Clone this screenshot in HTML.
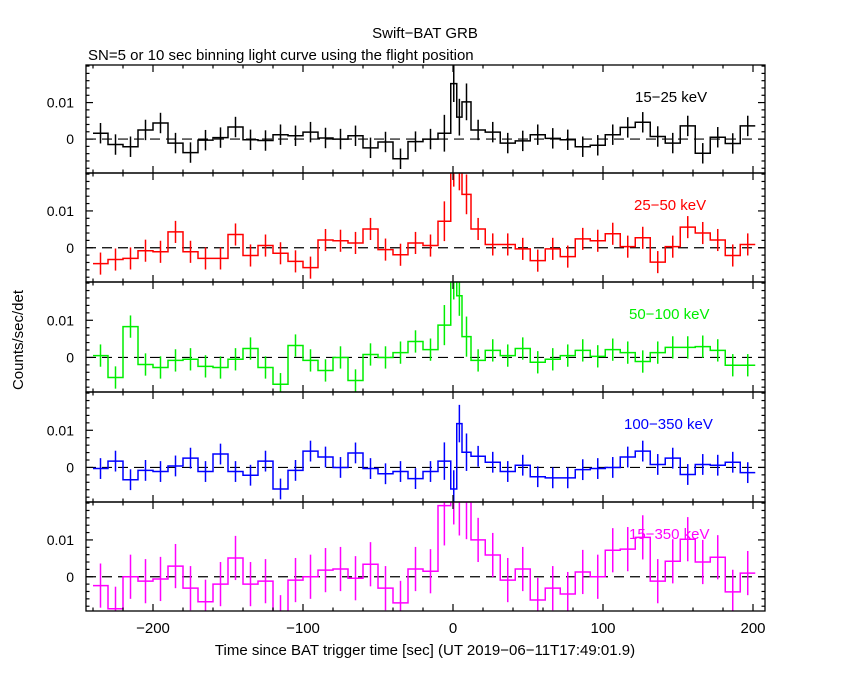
<!DOCTYPE html>
<html><head><meta charset="utf-8"><style>
html,body{margin:0;padding:0;background:#fff;}
svg{display:block;font-family:"Liberation Sans",sans-serif;}
</style></head><body>
<svg id="chart" width="850" height="680" viewBox="0 0 850 680">
<text x="425" y="38" font-size="15" text-anchor="middle">Swift−BAT GRB</text>
<text x="88" y="60" font-size="15">SN=5 or 10 sec binning light curve using the flight position</text>
<text transform="translate(23,340) rotate(-90)" font-size="15" text-anchor="middle">Counts/sec/det</text>
<text x="425" y="655" font-size="15" text-anchor="middle">Time since BAT trigger time [sec] (UT 2019−06−11T17:49:01.9)</text>
</svg>
<script>
const binEdges=[-240,-230,-220,-210,-200,-190,-180,-170,-160,-150,-140,-130,-120,-110,-100,-90,-80,-70,-60,-50,-40,-30,-20,-10,-1.5,2.5,6,12,21.5,31.5,41.5,51.5,61.5,71.5,81.5,91.5,101.5,111.5,121.5,131.5,141.5,151.5,161.5,171.5,181.5,191.5,201.5];
const bandLabels=["15−25 keV","25−50 keV","50−100 keV","100−350 keV","15−350 keV"];
const bandColors=["#000000","#ff0000","#00ee00","#0000ff","#ff00ff"];
const rate1525=[0.0016,-0.0015,-0.0021,0.0025,0.0044,-0.0011,-0.0037,-0.0003,0.0004,0.0033,-0.0002,-0.0004,0.0012,0.0009,0.0019,0.0003,0,0.0009,-0.0024,-0.0008,-0.0054,-0.0007,0,0.0016,0.0152,0.006,0.0102,0.0025,0.0019,-0.0011,-0.0005,0.0012,0.0002,-0.0002,-0.0021,-0.0017,0.0012,0.0032,0.0046,0.0007,-0.0011,0.0036,-0.0039,0.0005,-0.0012,0.0036];
const rate2550=[-0.0043,-0.0032,-0.0029,-0.0008,-0.0011,0.0043,-0.0011,-0.0029,-0.0029,0.0036,-0.0021,0.0006,-0.0015,-0.0037,-0.0054,0.0021,0.0019,0.0013,0.0051,-0.0005,-0.0019,0.0013,0.0006,0.0072,0.022,0.021,0.0145,0.0051,0.0009,0.0009,-0.0003,-0.0035,-0.0003,-0.0024,0.0024,0.0019,0.0038,0.0003,0.0027,-0.0039,0.0003,0.0056,0.004,0.0021,-0.0021,0.0009];
const rate50100=[0.0005,-0.0054,0.0083,-0.0019,-0.0027,-0.0008,-0.0005,-0.0024,-0.0027,-0.0005,0.0024,-0.0027,-0.0072,0.0032,-0.0008,-0.0035,0,-0.0062,0.0008,0,0.0013,0.0043,0.0021,0.0087,0.021,0.0166,0.0056,-0.0008,0.0019,0.0005,0.0024,-0.0013,-0.0005,0.0005,0.0019,0.0003,0.0021,0.0013,-0.0011,0.0013,0.0027,0.0027,0.0029,0.0019,-0.0021,-0.0021];
const rate100350=[-0.0003,0.0017,-0.0033,-0.0008,-0.0011,0.0004,0.0025,-0.0011,0.0036,-0.0011,-0.0021,0.0017,-0.0058,-0.0008,0.0044,0.0028,0,0.0039,-0.0003,-0.0017,-0.0011,-0.003,-0.0011,0.0017,-0.0058,0.0118,0.0041,0.003,0.0014,-0.0011,0.0006,-0.0025,-0.0028,-0.0028,-0.0006,-0.0003,0,0.0028,0.0044,0.0008,0.0025,-0.0019,0.0008,0.0006,0.0014,-0.0014];
const rate15350=[-0.0024,-0.0087,0,-0.0012,-0.0006,0.0029,-0.0031,-0.0068,-0.002,0.0051,-0.002,-0.0012,-0.011,-0.0009,0,0.0018,0.0021,-0.0004,0.0034,-0.0031,-0.0071,0.0021,0.0015,0.0193,0.025,0.022,0.021,0.01,0.0059,-0.0009,0.0021,-0.0063,-0.0031,-0.0047,0.0013,0,0.0072,0.0075,0.0107,-0.0012,0.0042,0.0102,0.004,0.0053,-0.0041,0.001];
const bandErrors=[0.0028,0.003,0.003,0.0028,0.006];
const xTickValues=[-200,-100,0,100,200];
const yTickValues=[0,0.01];
const allRates=[rate1525,rate2550,rate50100,rate100350,rate15350];

const NS="http://www.w3.org/2000/svg";
const svg=document.getElementById("chart");
const L=86,R=765,panelTops=[65,173,282,392,502],B=611;
const xMin=-222.0-(22.6),xMax=208.0;
function xs(t){return 453+1.5*t;}
const yMin=-0.0093,yMax=0.0203;
function mk(tag,attrs,parent){const e=document.createElementNS(NS,tag);for(const k in attrs)e.setAttribute(k,attrs[k]);(parent||svg).appendChild(e);return e;}

allRates.forEach((vals,p)=>{
  const top=panelTops[p],bot=(p<4?panelTops[p+1]:B),h=bot-top;
  const ys=v=>bot-(v-yMin)/(yMax-yMin)*h;
  const g=mk("g",{});
  
  
  const cp=mk("clipPath",{id:"cp"+p},g);
  mk("rect",{x:L,y:top,width:R-L,height:h},cp);
  const col=bandColors[p];
  // zero line
  const z=mk("line",{x1:L,x2:R,y1:ys(0),y2:ys(0),stroke:"#000","stroke-width":1.2,"stroke-dasharray":"10,6"},g);
  
  
  // step line
  let d="";
  vals.forEach((v,i)=>{const x0=xs(binEdges[i]),x1=xs(binEdges[i+1]),y=ys(v);d+=(i===0?"M":"L")+x0+","+y+"L"+x1+","+y;});
  const sp=mk("path",{d:d,fill:"none",stroke:col,"stroke-width":1.5,"clip-path":"url(#cp"+p+")"},g);
  
  
  // error bars
  vals.forEach((v,i)=>{const w=binEdges[i+1]-binEdges[i];const e=bandErrors[p]*(w<9?1.8:1);const xc=xs((binEdges[i]+binEdges[i+1])/2);
    const eb=mk("line",{x1:xc,x2:xc,y1:ys(v-e),y2:ys(v+e),stroke:col,"stroke-width":1.5,"clip-path":"url(#cp"+p+")"},g);
    
    
  });
  // frame
  const fr=mk("rect",{x:L,y:top,width:R-L,height:h,fill:"none",stroke:"#000","stroke-width":1.3},g);
  
  
  // x ticks
  for(let t=-240;t<=200;t+=20){const major=t%100===0;const len=major?7:3.5;const x=xs(t);
    mk("line",{x1:x,x2:x,y1:top,y2:top+len,stroke:"#000","stroke-width":1.2},g);
    mk("line",{x1:x,x2:x,y1:bot,y2:bot-len,stroke:"#000","stroke-width":1.2},g);}
  // y ticks
  for(let k=-4;k<=10;k++){const v=k*0.002;if(v<yMin||v>yMax)continue;const major=(k===0||k===5);const len=major?7:3.5;const y=ys(v);
    mk("line",{x1:L,x2:L+len,y1:y,y2:y,stroke:"#000","stroke-width":1.2},g);
    mk("line",{x1:R,x2:R-len,y1:y,y2:y,stroke:"#000","stroke-width":1.2},g);}
  yTickValues.forEach(v=>{const t=mk("text",{x:L-12,y:ys(v)+5,"font-size":14,"text-anchor":"end"},g);t.textContent=(v===0?"0":"0.01");
    
    });
  const lb=mk("text",{x:[635,634,629,624,629][p],y:top+37,"font-size":15,fill:col},g);lb.textContent=bandLabels[p];
  
  
});
xTickValues.forEach(v=>{const t=mk("text",{x:xs(v),y:633,"font-size":15,"text-anchor":"middle"});t.textContent=(v<0?"−"+(-v):String(v));
  
  });
</script>
</body></html>
